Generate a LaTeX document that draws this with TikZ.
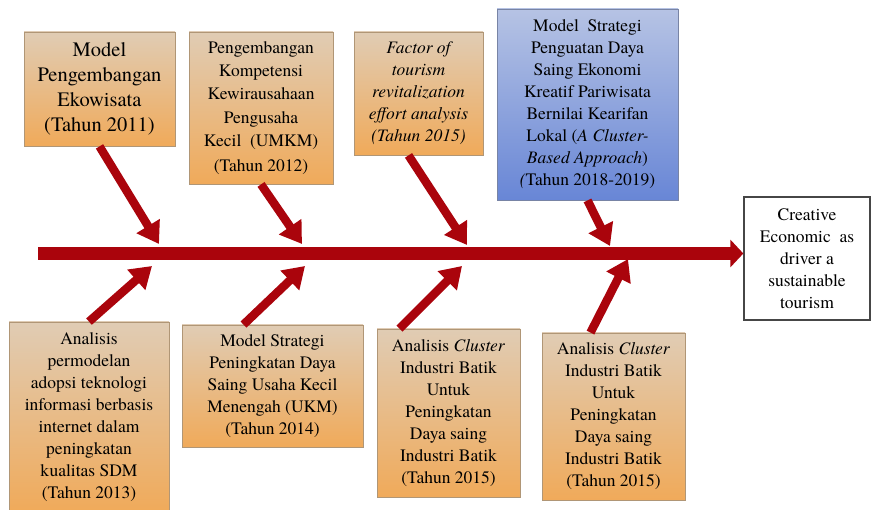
\documentclass[tikz,border=0pt]{standalone}
\usepackage{fontspec}
\setmainfont{texgyretermes}[Extension=.otf, UprightFont=*-regular, BoldFont=*-bold,
	ItalicFont=*-italic, BoldItalicFont=*-bolditalic]
\usetikzlibrary{arrows.meta,shadows,calc}

\definecolor{boneRed}{RGB}{170,4,12}
\definecolor{tanTop}{RGB}{224,204,180}
\definecolor{tanBot}{RGB}{240,170,90}
\definecolor{tanLine}{RGB}{176,150,118}
\definecolor{blueTop}{RGB}{182,195,228}
\definecolor{blueBot}{RGB}{104,134,214}
\definecolor{blueLine}{RGB}{120,132,165}

\tikzset{
	boxshadow/.style={drop shadow={shadow xshift=1.3pt,shadow yshift=-1.3pt,opacity=0.35}},
	tanbox/.style={draw=tanLine, line width=0.8pt, top color=tanTop, bottom color=tanBot,
		align=center, inner sep=0pt, boxshadow, font=\fontsize{17.5}{22}\selectfont},
	bluebox/.style={tanbox, draw=blueLine, top color=blueTop, bottom color=blueBot},
	goalbox/.style={draw={rgb,255:red,70;green,70;blue,70}, line width=1.3pt, fill=white,
		align=center, inner sep=0pt, boxshadow, font=\fontsize{17.5}{22}\selectfont},
	bone/.style={draw=boneRed, line width=8.5pt, -{Triangle[length=21pt,width=26pt]}},
	spine/.style={draw=boneRed, line width=13pt, -{Triangle[length=13pt,width=27pt]}}
}

\begin{document}
\begin{tikzpicture}[x=1pt,y=-1pt]
	\useasboundingbox (0,0) rectangle (871,510);

	% upper boxes
	\node[tanbox, minimum width=151pt, minimum height=114pt,
		font=\fontsize{20.5}{25}\selectfont] (m1) at (99.5,89)
		{Model\\Pengembangan\\Ekowisata\\(Tahun 2011)};
	\node[tanbox, minimum width=144pt, minimum height=152pt,
		font=\fontsize{17.5}{23.3}\selectfont] (m2) at (261,108)
		{Pengembangan\\Kompetensi\\Kewirausahaan\\Pengusaha\\Kecil\ \ (UMKM)\\[2pt](Tahun 2012)};
	\node[tanbox, minimum width=129pt, minimum height=123pt] (m3) at (418.5,93.5)
		{\itshape Factor of\\\itshape tourism\\\itshape revitalization\\\itshape effort analysis\\\itshape (Tahun 2015)};
	\node[bluebox, minimum width=181pt, minimum height=191pt] (m4) at (587.5,104.5)
		{Model\ \ Strategi\\Penguatan Daya\\Saing Ekonomi\\Kreatif Pariwisata\\Bernilai Kearifan\\Lokal (\textit{A Cluster-}\\\textit{Based Approach})\\\textit{(}Tahun 2018-2019)};

	% goal
	\node[goalbox, minimum width=126pt, minimum height=123pt] (goal) at (807,258.5)
		{Creative\\Economic\ \ as\\driver a\\sustainable\\tourism};

	% lower boxes
	\node[tanbox, minimum width=160pt, minimum height=190pt] (m6) at (89,417)
		{Analisis\\permodelan\\adopsi teknologi\\informasi berbasis\\internet dalam\\peningkatan\\kualitas SDM\\(Tahun 2013)};
	\node[tanbox, minimum width=181pt, minimum height=122pt] (m7) at (272.5,386)
		{Model Strategi\\Peningkatan Daya\\Saing Usaha Kecil\\Menengah (UKM)\\(Tahun 2014)};
	\node[tanbox, minimum width=143pt, minimum height=168pt] (m8) at (448.5,413)
		{Analisis \textit{Cluster}\\Industri Batik\\Untuk\\Peningkatan\\Daya saing\\Industri Batik\\(Tahun 2015)};
	\node[tanbox, minimum width=143pt, minimum height=167pt] (m9) at (613.5,416.5)
		{Analisis \textit{Cluster}\\Industri Batik\\Untuk\\Peningkatan\\Daya saing\\Industri Batik\\(Tahun 2015)};

	% spine
	\coordinate (sL) at (38,253.5);
	\draw[spine] (sL) -- (sL -| goal.west);

	% tips on the spine
	\coordinate (t1) at (159,244);
	\coordinate (t2) at (302,244);
	\coordinate (t3) at (467,245);
	\coordinate (t4) at (610,246);
	\coordinate (b6) at (152,266);
	\coordinate (b7) at (305,266);
	\coordinate (b8) at (462,266);
	\coordinate (b9) at (628,259);

	% bones
	\draw[bone] (m1.south) -- (t1);
	\draw[bone] (m2.south) -- (t2);
	\draw[bone] ($(m3.south)+(-10,0)$) -- (t3);
	\draw[bone] (m4.south) -- (t4);
	\draw[bone] (m6.north) -- (b6);
	\draw[bone] ($(m7.north)+(-29,0)$) -- (b7);
	\draw[bone] ($(m8.north)+(-49,0)$) -- (b8);
	\draw[bone] ($(m9.north)+(-23,0)$) -- (b9);
\end{tikzpicture}
\end{document}
